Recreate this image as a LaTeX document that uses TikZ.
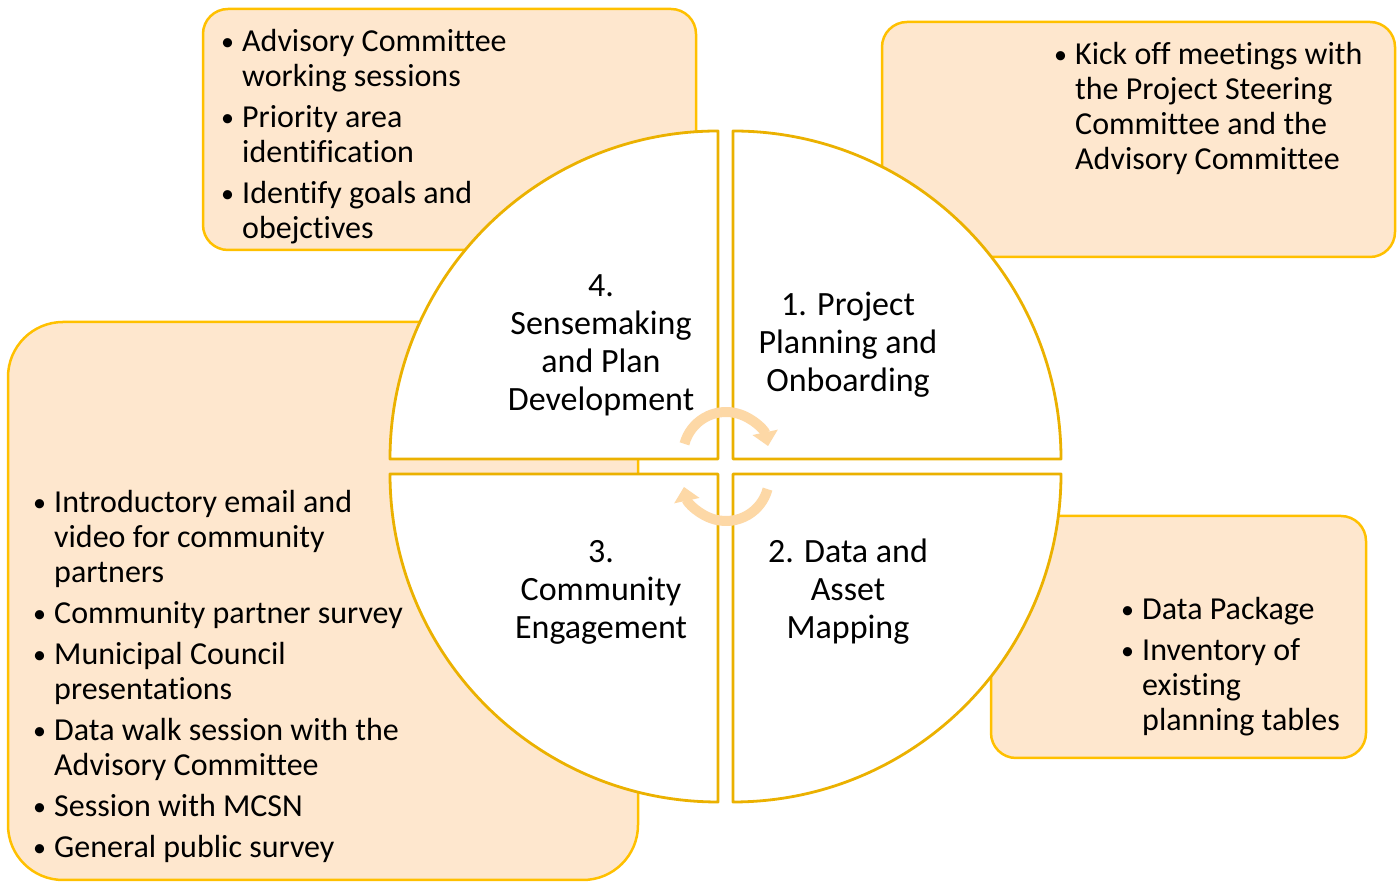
\documentclass[tikz,border=0pt]{standalone}
\usepackage{fontspec}
\setmainfont[Ligatures=NoCommon]{Carlito}
\usetikzlibrary{arrows.meta}
\definecolor{boxfill}{HTML}{FEE7CE}
\definecolor{boxline}{HTML}{FFC000}
\definecolor{quadline}{HTML}{EBB100}
\definecolor{cyc}{HTML}{FDD8A6}
\newcommand{\bl}{\makebox[21pt][l]{\raisebox{1pt}{\fontsize{26}{26}\selectfont •}}}
\tikzset{
  infobox/.style={draw=boxline, fill=boxfill, line width=2.5pt},
  quad/.style={draw=quadline, fill=white, line width=2.8pt, line join=round},
  qlabel/.style={align=center, inner sep=0pt, font=\fontsize{34}{38}\selectfont},
  blist/.style={anchor=base west, inner sep=0pt, font=\fontsize{32}{35}\selectfont},
  cycarrow/.style={draw=cyc, line width=10pt, -{Triangle[width=25pt,length=14pt]}}
}
\begin{document}
\begin{tikzpicture}[x=1pt,y=1pt]
\useasboundingbox (0,0) rectangle (1400,882);
% background boxes
\draw[infobox, rounded corners=25pt] (203,632) rectangle (696,873);
\draw[infobox, rounded corners=25pt] (882,625) rectangle (1395,860);
\draw[infobox, rounded corners=55pt] (8,2) rectangle (638,560);
\draw[infobox, rounded corners=25pt] (991,124) rectangle (1366,366);
% quadrants
\draw[quad] (718,423) -- (390,423) arc[start angle=180, end angle=90, radius=328] -- cycle;
\draw[quad] (733,423) -- (733,751) arc[start angle=90, end angle=0, radius=328] -- cycle;
\draw[quad] (733,408) -- (1061,408) arc[start angle=0, end angle=-90, radius=328] -- cycle;
\draw[quad] (718,408) -- (718,80) arc[start angle=-90, end angle=-180, radius=328] -- cycle;
% cycle arrows
\draw[cycarrow] (726,427) ++(165:43) arc[start angle=165, end angle=12, radius=43];
\draw[cycarrow] (726,404) ++(-15:43) arc[start angle=-15, end angle=-168, radius=43];
% quadrant labels
\node[qlabel] (q4) at (601,537) {4.\\Sensemaking\\and Plan\\Development};
\node[qlabel] (q1) at (848,537) {1. Project\\Planning and\\Onboarding};
\node[qlabel] (q3) at (601,290) {3.\\Community\\Engagement};
\node[qlabel] (q2) at (848,290) {2. Data and\\Asset\\Mapping};
% bullet lists
\node[blist] (l4) at (221,830) {\begin{tabular}[t]{@{}l@{}l@{}}
\bl & Advisory Committee\\ & working sessions\\[6pt]
\bl & Priority area\\ & identification\\[6pt]
\bl & Identify goals and\\ & obejctives
\end{tabular}};
\node[blist] (l1) at (1054,817) {\begin{tabular}[t]{@{}l@{}l@{}}
\bl & Kick off meetings with\\ & the Project Steering\\ & Committee and the\\ & Advisory Committee
\end{tabular}};
\node[blist] (l3) at (33,369) {\begin{tabular}[t]{@{}l@{}l@{}}
\bl & Introductory email and\\ & video for community\\ & partners\\[6pt]
\bl & Community partner survey\\[6pt]
\bl & Municipal Council\\ & presentations\\[6pt]
\bl & Data walk session with the\\ & Advisory Committee\\[6pt]
\bl & Session with MCSN\\[6pt]
\bl & General public survey
\end{tabular}};
\node[blist] (l2) at (1121,262) {\begin{tabular}[t]{@{}l@{}l@{}}
\bl & Data Package\\[6pt]
\bl & Inventory of\\ & existing\\ & planning tables
\end{tabular}};
\end{tikzpicture}
\end{document}
